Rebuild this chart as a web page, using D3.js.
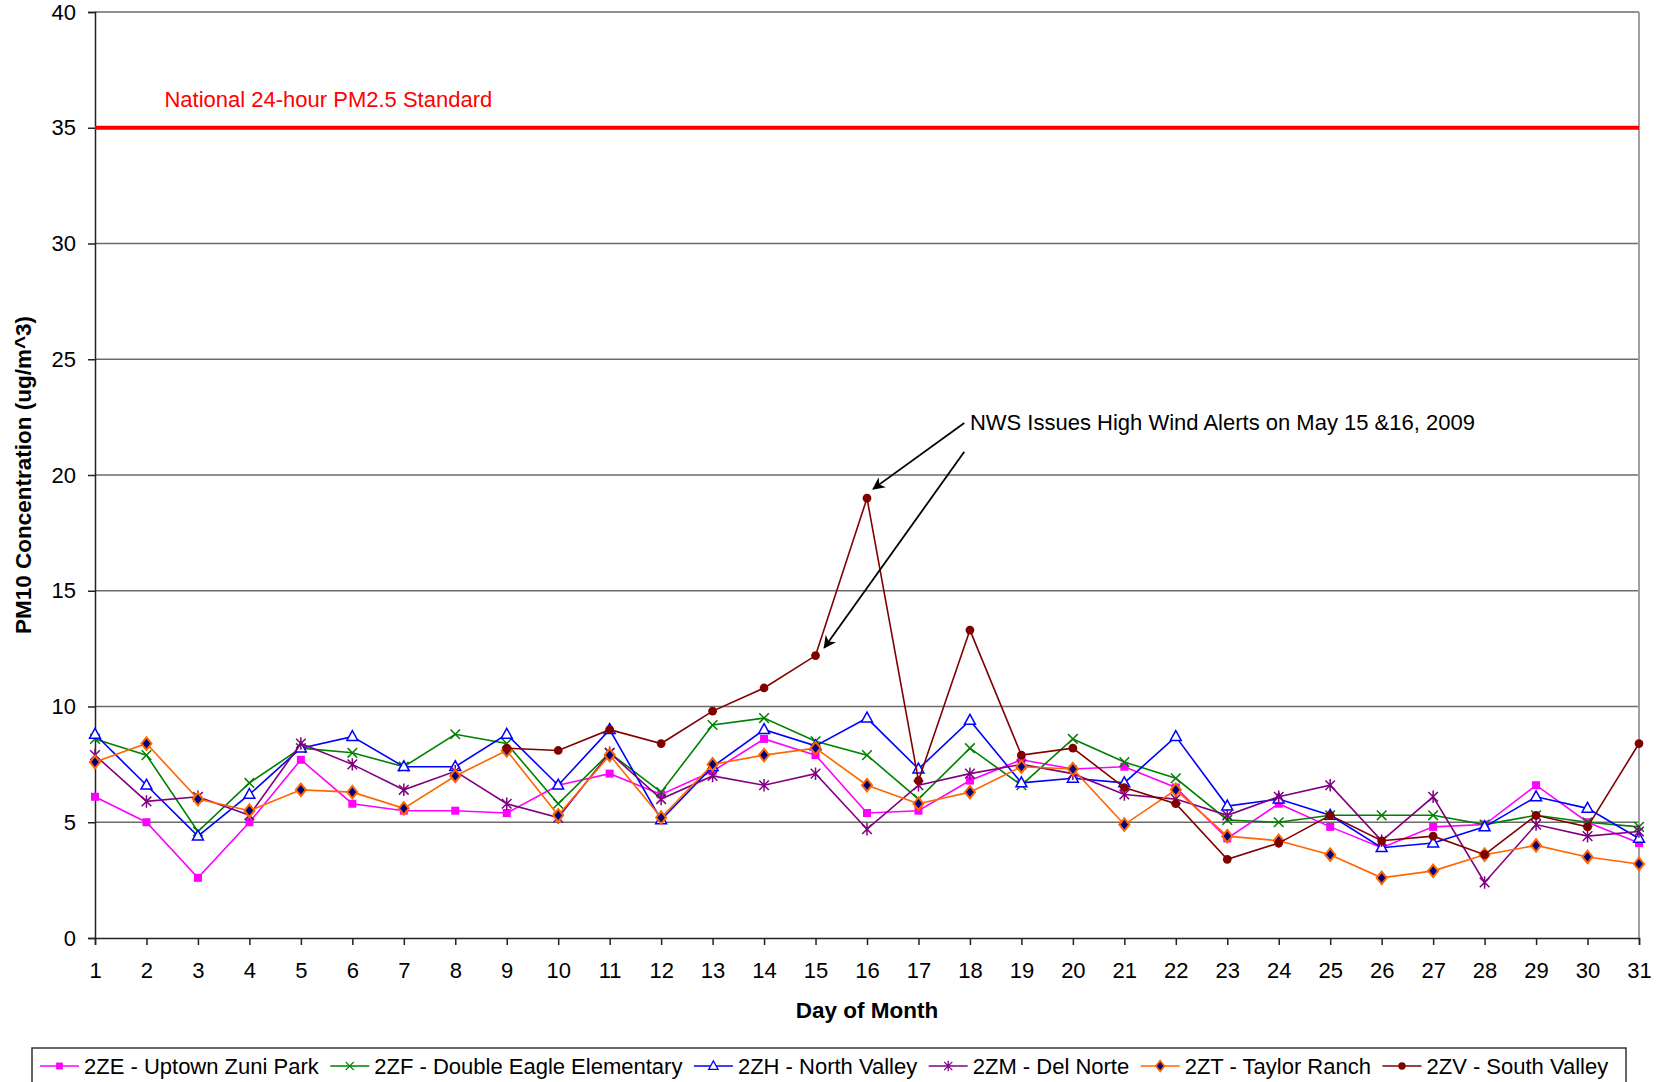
<!DOCTYPE html>
<html>
<head>
<meta charset="utf-8">
<script src="https://cdn.jsdelivr.net/npm/d3@7"></script>
<style>
  body { margin: 0; background: #fff; }
  svg text { font-family: "Liberation Sans", Arial, sans-serif; }
</style>
</head>
<body>
<div id="graf"></div>
<script>
// categories and values
const dias = [1, 2, 3, 4, 5, 6, 7, 8, 9, 10, 11, 12, 13, 14, 15, 16, 17, 18, 19, 20, 21, 22, 23, 24, 25, 26, 27, 28, 29, 30, 31]
const yTicks = [0, 5, 10, 15, 20, 25, 30, 35, 40]

const uptownZuni = [6.1, 5.0, 2.6, 5.0, 7.7, 5.8, 5.5, 5.5, 5.4, 6.6, 7.1, 6.2, 7.2, 8.6, 7.9, 5.4, 5.5, 6.8, 7.7, 7.3, 7.4, 6.5, 4.3, 5.8, 4.8, 3.9, 4.8, 4.9, 6.6, 5.0, 4.1]
const doubleEagle = [8.6, 7.9, 4.6, 6.7, 8.2, 8.0, 7.4, 8.8, 8.4, 5.8, 8.0, 6.3, 9.2, 9.5, 8.5, 7.9, 6.0, 8.2, 6.6, 8.6, 7.6, 6.9, 5.1, 5.0, 5.3, 5.3, 5.3, 4.9, 5.3, 5.0, 4.8]
const northValley = [8.8, 6.6, 4.4, 6.2, 8.2, 8.7, 7.4, 7.4, 8.8, 6.6, 9.0, 5.1, 7.4, 9.0, 8.3, 9.5, 7.3, 9.4, 6.7, 6.9, 6.7, 8.7, 5.7, 6.0, 5.3, 3.9, 4.1, 4.8, 6.1, 5.6, 4.3]
const delNorte = [7.9, 5.9, 6.1, 5.3, 8.4, 7.5, 6.4, 7.2, 5.8, 5.2, 8.0, 6.0, 7.0, 6.6, 7.1, 4.7, 6.6, 7.1, 7.5, 7.1, 6.2, 6.0, 5.3, 6.1, 6.6, 4.2, 6.1, 2.4, 4.9, 4.4, 4.6]
const taylorRanch = [7.6, 8.4, 6.0, 5.5, 6.4, 6.3, 5.6, 7.0, 8.1, 5.3, 7.9, 5.2, 7.5, 7.9, 8.2, 6.6, 5.8, 6.3, 7.4, 7.3, 4.9, 6.4, 4.4, 4.2, 3.6, 2.6, 2.9, 3.6, 4.0, 3.5, 3.2]
const southValley = [null, null, null, null, null, null, null, null, 8.2, 8.1, 9.0, 8.4, 9.8, 10.8, 12.2, 19.0, 6.8, 13.3, 7.9, 8.2, 6.5, 5.8, 3.4, 4.1, 5.3, 4.2, 4.4, 3.6, 5.3, 4.8, 8.4]

const nombres = ['2ZE - Uptown Zuni Park', '2ZF - Double Eagle Elementary', '2ZH - North Valley', '2ZM - Del Norte', '2ZT - Taylor Ranch', '2ZV - South Valley']
const estandar = 35
const estandarTexto = 'National 24-hour PM2.5 Standard'
const nota = 'NWS Issues High Wind Alerts on May 15 &16, 2009'

const series = [
    { nombre: nombres[0], valores: uptownZuni, color: '#ff00ff', marca: 'square' },
    { nombre: nombres[1], valores: doubleEagle, color: '#008000', marca: 'x' },
    { nombre: nombres[2], valores: northValley, color: '#0000ff', marca: 'triangle' },
    { nombre: nombres[3], valores: delNorte, color: '#800080', marca: 'asterisk' },
    { nombre: nombres[4], valores: taylorRanch, color: '#ff6600', marca: 'diamond' },
    { nombre: nombres[5], valores: southValley, color: '#800000', marca: 'circle' },
]

const anchoTotal = 1668
const altoTotal = 1082
const margin = { left: 95, right: 29, top: 12, bottom: 144 }
const fs = 22

const svg = d3.select('#graf').append('svg')
    .attr('width', anchoTotal)
    .attr('height', altoTotal)

const x = d3.scaleLinear().domain([1, 31]).range([margin.left, anchoTotal - margin.right])
const y = d3.scaleLinear().domain([0, 40]).range([altoTotal - margin.bottom, margin.top])

// gridlines
svg.append('g')
    .selectAll('line')
    .data(yTicks.filter(d => d > 0))
    .enter()
    .append('line')
    .attr('x1', x(1)).attr('x2', x(31))
    .attr('y1', d => y(d)).attr('y2', d => y(d))
    .attr('stroke', '#6b6b6b')
    .attr('stroke-width', 1.5)

// right border
svg.append('line')
    .attr('x1', x(31)).attr('x2', x(31))
    .attr('y1', y(40)).attr('y2', y(0))
    .attr('stroke', '#a0a0a0')
    .attr('stroke-width', 2)

// axes
const ejeY = svg.append('g')
    .attr('transform', `translate(${x(1)},0)`)
    .call(d3.axisLeft(y).tickValues(yTicks).tickSize(7).tickPadding(12))
const ejeX = svg.append('g')
    .attr('transform', `translate(0,${y(0)})`)
    .call(d3.axisBottom(x).tickValues(dias).tickSize(7).tickPadding(17))

for (const eje of [ejeY, ejeX]) {
    eje.select('.domain').attr('stroke', '#222').attr('stroke-width', 1.5)
    eje.selectAll('.tick line').attr('stroke', '#222').attr('stroke-width', 1.5)
    eje.selectAll('text')
        .attr('font-size', fs)
        .attr('font-family', '"Liberation Sans", Arial, sans-serif')
        .attr('fill', '#000')
}

// axis titles
svg.append('text')
    .attr('x', (x(1) + x(31)) / 2)
    .attr('y', 1018)
    .attr('text-anchor', 'middle')
    .attr('font-size', 22.5)
    .attr('font-weight', 'bold')
    .text('Day of Month')

svg.append('text')
    .attr('transform', `translate(31,${(y(0) + y(40)) / 2}) rotate(-90)`)
    .attr('text-anchor', 'middle')
    .attr('font-size', 22.5)
    .attr('font-weight', 'bold')
    .text('PM10 Concentration (ug/m^3)')

// national standard line
svg.append('line')
    .attr('x1', x(1)).attr('x2', x(31))
    .attr('y1', y(estandar)).attr('y2', y(estandar))
    .attr('stroke', '#ff0000')
    .attr('stroke-width', 4)
svg.append('text')
    .attr('x', x(2.35))
    .attr('y', y(estandar) - 21)
    .attr('font-size', fs)
    .attr('fill', '#ff0000')
    .text(estandarTexto)

// marker drawing
const marcaPath = (tipo, s) => {
    if (tipo === 'x') return `M${-s},${-s}L${s},${s}M${-s},${s}L${s},${-s}`
    if (tipo === 'asterisk') return `M${-s},${-s}L${s},${s}M${-s},${s}L${s},${-s}M0,${-s * 1.3}L0,${s * 1.3}`
    if (tipo === 'triangle') return `M0,${-s * 1.15}L${s * 1.05},${s * 0.75}L${-s * 1.05},${s * 0.75}Z`
    if (tipo === 'square') return d3.symbol(d3.symbolSquare, 64)()
    if (tipo === 'diamond') return `M0,${-s * 1.25}L${s},0L0,${s * 1.25}L${-s},0Z`
    return d3.symbol(d3.symbolCircle, 60)()
}

const dibujarMarca = (g, tipo, color) => {
    if (tipo === 'square' || tipo === 'circle') {
        g.append('path').attr('d', marcaPath(tipo, 4)).attr('fill', color)
    } else if (tipo === 'x' || tipo === 'asterisk') {
        g.append('path').attr('d', marcaPath(tipo, 4.8)).attr('fill', 'none').attr('stroke', color).attr('stroke-width', 1.5)
    } else if (tipo === 'triangle') {
        g.append('path').attr('d', marcaPath(tipo, 5.2)).attr('fill', '#fff').attr('stroke', color).attr('stroke-width', 1.5)
    } else if (tipo === 'diamond') {
        g.append('path').attr('d', marcaPath(tipo, 5)).attr('fill', '#000080').attr('stroke', color).attr('stroke-width', 2)
    }
}

const linea = d3.line()
    .defined(d => d.v !== null)
    .x(d => x(d.dia))
    .y(d => y(d.v))

series.forEach(s => {
    const puntos = s.valores.map((v, i) => ({ dia: dias[i], v }))
    const g = svg.append('g')
    g.append('path')
        .datum(puntos)
        .attr('d', linea)
        .attr('fill', 'none')
        .attr('stroke', s.color)
        .attr('stroke-width', 1.6)
    g.selectAll('g.marca')
        .data(puntos.filter(d => d.v !== null))
        .enter()
        .append('g')
        .attr('class', 'marca')
        .attr('transform', d => `translate(${x(d.dia)},${y(d.v)})`)
        .each(function () { dibujarMarca(d3.select(this), s.marca, s.color) })
})

// annotation with arrows
svg.append('defs').append('marker')
    .attr('id', 'flecha')
    .attr('viewBox', '0 0 10 10')
    .attr('refX', 9).attr('refY', 5)
    .attr('markerWidth', 7).attr('markerHeight', 7)
    .attr('orient', 'auto')
    .append('path')
    .attr('d', 'M0,0L10,5L0,10L3,5Z')
    .attr('fill', '#000')

const flechas = [
    { x1: 17.89, y1: 22.25, x2: 16.12, y2: 19.4 },
    { x1: 17.89, y1: 21.0, x2: 15.17, y2: 12.54 },
]
svg.append('g')
    .selectAll('line')
    .data(flechas)
    .enter()
    .append('line')
    .attr('x1', d => x(d.x1)).attr('y1', d => y(d.y1))
    .attr('x2', d => x(d.x2)).attr('y2', d => y(d.y2))
    .attr('stroke', '#000')
    .attr('stroke-width', 1.8)
    .attr('marker-end', 'url(#flecha)')

svg.append('text')
    .attr('x', x(18.0))
    .attr('y', y(22.2) + 6)
    .attr('font-size', fs)
    .attr('fill', '#000')
    .text(nota)

// legend
const leyenda = svg.append('g')
const leyX = 32, leyY = 1048
const caja = leyenda.append('rect')
    .attr('x', leyX).attr('y', leyY)
    .attr('height', 50)
    .attr('fill', '#fff')
    .attr('stroke', '#333')
    .attr('stroke-width', 1.5)

let cursor = leyX + 8
const cy = 1066
series.forEach(s => {
    leyenda.append('line')
        .attr('x1', cursor).attr('x2', cursor + 39)
        .attr('y1', cy).attr('y2', cy)
        .attr('stroke', s.color)
        .attr('stroke-width', 1.6)
    const gm = leyenda.append('g')
        .attr('transform', `translate(${cursor + 19.5},${cy}) scale(0.85)`)
    dibujarMarca(gm, s.marca, s.color)
    const t = leyenda.append('text')
        .attr('x', cursor + 44)
        .attr('y', cy + 8)
        .attr('font-size', fs)
        .text(s.nombre)
    cursor += 44 + t.node().getComputedTextLength() + 11.5
})
caja.attr('width', 1626 - leyX)
</script>
</body>
</html>
